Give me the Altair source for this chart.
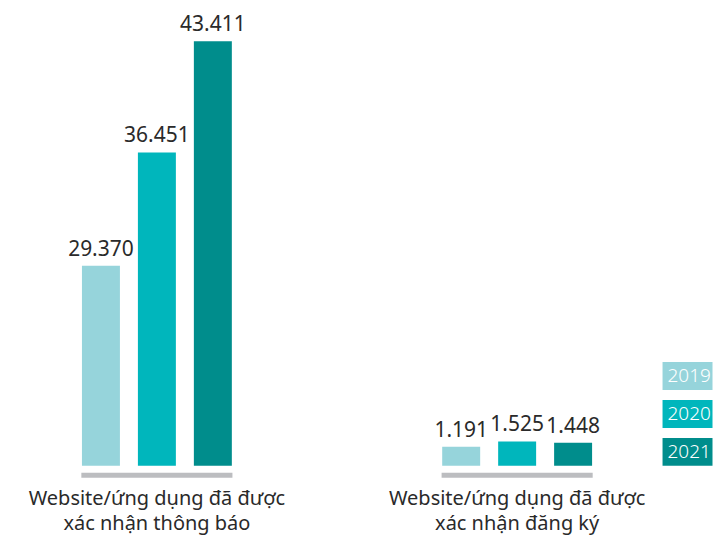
import altair as alt
import pandas as pd

# ---- data ----
group_keys = ["notified", "registered"]
group_titles = [
    "Website/ứng dụng đã được\nxác nhận thông báo",
    "Website/ứng dụng đã được\nxác nhận đăng ký",
]
years = ["2019", "2020", "2021"]
notified = [29370, 36451, 43411]
registered = [1191, 1525, 1448]
colors = ["#96d4db", "#00b6bc", "#008d8c"]

# the infographic draws the first group on a broken (non-zero) axis
y_floor = [16851, 0]
y_top = [45476, 28625]

rows = []
for key, vals in zip(group_keys, [notified, registered]):
    for yr, v in zip(years, vals):
        rows.append({"group": key, "year": yr, "value": v,
                     "label": f"{v:,}".replace(",", ".")})
df = pd.DataFrame(rows)
titles_df = pd.DataFrame({"group": group_keys, "title": group_titles})
legend_df = pd.DataFrame({"year": years})

FONT = "Noto Sans"
TEXT_COLOR = "#2a2a2a"
W, H = 658.5, 458

xscale = alt.Scale(domain=group_keys, paddingInner=0.534, paddingOuter=0.1803)
xoff = alt.Scale(domain=years, paddingInner=0.3214, paddingOuter=0.1607)
cscale = alt.Scale(domain=years, range=colors)


def group_layer(i):
    key = group_keys[i]
    base = alt.Chart(df).transform_filter(alt.datum.group == key)
    yenc = alt.Y("value:Q",
                 scale=alt.Scale(domain=[y_floor[i], y_top[i]], nice=False, zero=False),
                 axis=None)
    x = alt.X("group:N", scale=xscale, axis=None)
    xo = alt.XOffset("year:N", scale=xoff)
    bars = base.mark_bar().encode(
        x=x, xOffset=xo, y=yenc, y2=alt.datum(y_floor[i]),
        color=alt.Color("year:N", scale=cscale, legend=None),
    )
    labels = base.mark_text(dy=-10, baseline="alphabetic", fontSize=21,
                            font=FONT, color=TEXT_COLOR).encode(
        x=x, xOffset=xo, y=yenc, text="label:N")
    tb = alt.Chart(titles_df).transform_filter(alt.datum.group == key)
    baseline = tb.mark_bar(color="#bcbdc0", width=alt.RelativeBandSize(0.9)).encode(
        x=x, y=alt.value(465), y2=alt.value(470))
    title = tb.mark_text(lineBreak="\n", lineHeight=25, fontSize=20, font=FONT,
                         color=TEXT_COLOR, baseline="alphabetic", align="center").encode(
        x=x, y=alt.value(497), text="title:N")
    return alt.layer(bars, labels, baseline, title)


ly = alt.Y("year:N", scale=alt.Scale(domain=years, range=[354, 458],
                                     paddingInner=0.263, paddingOuter=0), axis=None)
leg_rect = alt.Chart(legend_df).mark_rect().encode(
    x=alt.value(655), x2=alt.value(705), y=ly,
    color=alt.Color("year:N", scale=cscale, legend=None))
leg_text = alt.Chart(legend_df).mark_text(align="left", baseline="middle", fontSize=19,
                                          font=FONT, fontWeight=300, color="white").encode(
    x=alt.value(660), y=ly, text="year:N")
legend = alt.layer(leg_rect, leg_text)

chart = alt.layer(group_layer(0), group_layer(1), legend).resolve_scale(
    y="independent"
).properties(
    width=W, height=H,
    padding={"left": 0, "top": 0, "right": 0, "bottom": 2},
).configure_view(stroke=None)

chart.save("out.html", embed_options={"renderer": "svg", "actions": False})
